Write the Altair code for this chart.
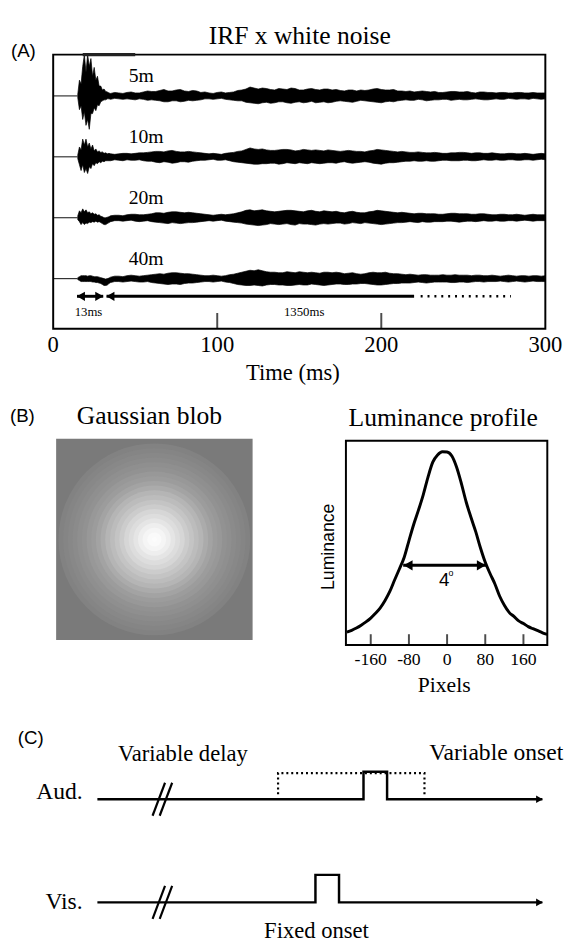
import altair as alt
import pandas as pd

SERIF = "Liberation Serif"
SANS = "Liberation Sans"

# ---------------- Panel A : IRF x white noise ----------------
TIME_BURST = list(range(15, 35))               # ms, 1 ms grid during the onset burst
TIME_GRID = list(range(35, 301, 5))            # ms, 5 ms grid afterwards
TIME_MID = [t + 2.5 for t in TIME_GRID[:-1]]   # ms, samples between the 5 ms grid
TRACE_LABELS = ["5m", "10m", "20m", "40m"]
TRACE_OFFSET = [0, -62, -124, -186]

# burst (1 ms) upper / lower envelope
UP_5_B = [2, 16, 12, 30, 42, 24, 42, 30, 38, 20, 29, 16, 20, 10, 10, 6, 7, 4.5, 4, 3]
LO_5_B = [-2, -14, -10, -24, -16, -30, -24, -34, -18, -18, -12, -15, -9, -10, -6, -5, -4, -4, -3, -3]
UP_10_B = [2, 10, 7, 18, 12, 18, 10, 14, 8, 12, 6, 8, 5, 6, 4.5, 5, 3.5, 4, 3, 3.5]
LO_10_B = [-2, -8, -14, -8, -16, -12, -17, -10, -12, -7, -9, -6, -7, -5, -6, -4.5, -5, -4, -4, -4]
UP_20_B = [2, 7, 5, 9, 6, 8, 5, 6, 4, 5, 3.5, 4, 2.5, 3, 1.5, 1, 0, 0, 0.5, 1]
LO_20_B = [-2, -4, -7, -5, -7, -5.5, -6, -4.5, -5, -4, -4.5, -3.5, -4.5, -4, -5, -6, -7, -7, -6, -5]
UP_40_B = [1, 2, 3, 3, 3, 3, 2.5, 3, 3, 2.5, 2, 2, 2, 1.5, 1, 0.5, 0, -0.5, 0, 0.5]
LO_40_B = [-1, -2, -3, -3, -3, -3, -3, -3, -3, -3.5, -3.5, -4, -4, -4.5, -5, -6, -7, -7, -6.5, -5]

# tail on the 5 ms grid
UP_5_G = [2.5, 3, 3.5, 3, 4, 4.5, 5.5, 5, 6, 5, 5.5, 3.5, 3, 3.5, 3, 4, 6, 9, 7, 7.5,
          6, 7, 8, 6, 7, 6.5, 7, 6, 5.5, 6, 5, 5.5, 7, 6.5, 6, 5, 4.5, 4, 5, 4,
          3.5, 4, 4.5, 4, 3.5, 4, 3.5, 3, 3.5, 3, 3.5, 3, 3, 3]
LO_5_G = [-3.5, -3, -3, -4, -3.5, -4, -5, -6, -5, -5.5, -5, -4, -3, -3, -3.5, -4.5, -5, -7, -8, -6.5,
          -7, -6, -7.5, -6, -6.5, -7, -6, -6.5, -5, -6, -5.5, -5, -6, -7, -5.5, -5, -4, -4.5, -4, -4.5,
          -4, -3.5, -4, -4, -3.5, -3.5, -4, -3, -3.5, -3, -3, -3.5, -3, -3]
UP_10_G = [3, 3, 3.5, 3.5, 4, 5, 5.5, 6, 5.5, 5, 5, 4, 3, 3, 3.5, 4.5, 6, 9, 7.5, 7,
           6.5, 7.5, 7, 6.5, 7, 7, 6, 6.5, 5.5, 6.5, 5.5, 5, 6.5, 7, 6, 5, 5, 4.5, 4.5, 4,
           4, 3.5, 4, 4.5, 3.5, 4, 3.5, 3.5, 3, 3.5, 3, 3, 3, 3]
LO_10_G = [-4, -3.5, -3, -3.5, -4, -4.5, -6, -5.5, -6, -5, -4.5, -3.5, -3, -3.5, -3, -5, -6, -7, -7.5, -7,
           -6.5, -7, -6.5, -6, -7, -6.5, -6.5, -6, -5.5, -6, -6, -5, -6.5, -7.5, -6, -5.5, -4.5, -4, -4.5, -4.5,
           -4, -3.5, -4, -3.5, -4, -3.5, -3.5, -3, -3.5, -3, -3.5, -3, -3, -3]
UP_20_G = [2, 2.5, 3, 3.5, 3, 4, 5, 5.5, 6, 5, 5, 4, 3, 3, 3, 4, 6, 8, 7.5, 7,
           6, 7, 7.5, 6.5, 7, 6.5, 7, 6, 5.5, 6, 5.5, 5, 6.5, 7, 6, 5, 5, 4, 4.5, 4,
           3.5, 4, 4.5, 4, 3.5, 4, 3.5, 3, 3.5, 3, 3, 3, 3, 3]
LO_20_G = [-4, -3, -3, -3.5, -3.5, -4, -5, -6, -5.5, -5.5, -5, -4, -3, -3, -3.5, -4.5, -5.5, -7, -8, -7,
           -6.5, -6.5, -7, -6, -6.5, -7.5, -6, -6, -5.5, -6, -5.5, -5, -6, -7, -6, -5, -4.5, -4.5, -4, -4.5,
           -4, -3.5, -4, -4, -3.5, -3.5, -3.5, -3, -3.5, -3, -3, -3, -3, -3]
UP_40_G = [1.5, 2.5, 3, 3, 3, 4, 5, 5.5, 6, 5, 4.5, 3.5, 3, 3, 3, 4.5, 6.5, 8.5, 9, 7,
           6.5, 6, 6.5, 7, 6, 6, 6.5, 6, 6, 5.5, 5, 5, 6.5, 6, 5.5, 5, 4, 4, 4, 3.5,
           3.5, 3.5, 4, 3.5, 3, 3.5, 3, 3, 3, 3, 3, 2.5, 3, 3]
LO_40_G = [-4, -3, -3, -3, -3.5, -4, -5, -6, -5.5, -5, -4.5, -3.5, -3, -3, -3.5, -5, -6.5, -7, -7, -6.5,
           -6, -6.5, -7, -6, -6.5, -6, -7, -6, -5.5, -6, -5.5, -5, -6, -6.5, -5.5, -5, -4.5, -4, -4, -4,
           -3.5, -3.5, -4, -3.5, -3.5, -3, -3, -3, -3, -3, -3, -3, -3, -3]

# tail between grid points (37.5, 42.5, ... ms)
UP_5_M = [3.5, 2.5, 4, 3, 5, 4.5, 6.5, 5, 6.5, 4.5, 5, 4, 2.5, 4, 3.5, 5.5, 7, 8, 8, 6.5,
          7.5, 6.5, 7.5, 6, 7.5, 6, 7, 6.5, 5, 6, 6, 6, 7.5, 6, 6.5, 5, 5, 4.5, 4.5, 4.5,
          3.5, 4.5, 4, 4.5, 3, 4, 3.5, 3.5, 3, 3.5, 3, 3.5, 3]
LO_5_M = [-2.5, -3.5, -3.5, -3, -4.5, -4.5, -6, -5, -6, -4.5, -4.5, -3, -3.5, -2.5, -4, -5, -6.5, -7.5, -7, -7.5,
          -6, -7, -6.5, -7, -5.5, -6.5, -7, -5.5, -5.5, -6.5, -4.5, -5.5, -6.5, -6, -6, -4.5, -4.5, -3.5, -5, -4,
          -3.5, -4.5, -3.5, -4, -3, -4, -3.5, -3.5, -2.5, -3.5, -3, -2.5, -3.5]
UP_10_M = [2.5, 3.5, 3, 4, 4.5, 5.5, 5, 6.5, 5, 5.5, 4.5, 3.5, 3.5, 2.5, 4, 5.5, 7.5, 8, 8, 6.5,
           7, 7.5, 6, 7.5, 6.5, 6.5, 7, 6, 6, 6, 5.5, 6, 7.5, 6.5, 5.5, 5.5, 4.5, 5, 4, 4.5,
           3.5, 4, 4.5, 4, 4, 3.5, 4, 3, 3.5, 3, 3.5, 2.5, 3.5]
LO_10_M = [-3, -4, -3.5, -3, -4.5, -5.5, -5, -6.5, -5, -5.5, -4, -3.5, -2.5, -3.5, -4, -5.5, -6.5, -7.5, -7, -6.5,
           -7.5, -6, -7, -6.5, -6, -7, -6, -6.5, -5, -6.5, -5.5, -5.5, -7, -6.5, -6, -5, -4.5, -4.5, -4, -4.5,
           -3.5, -4, -4, -3.5, -4, -3, -3.5, -3.5, -3, -3.5, -3, -3.5, -2.5]
UP_20_M = [2.5, 2, 3.5, 3, 3.5, 5, 4.5, 6, 5.5, 5.5, 4.5, 3.5, 2.5, 3.5, 3.5, 5, 7.5, 7, 8, 6.5,
           6.5, 7.5, 7, 6, 7.5, 6, 6.5, 6.5, 5, 6.5, 5, 6, 7.5, 6.5, 5.5, 5.5, 4.5, 4.5, 4, 4,
           3.5, 4.5, 4, 4, 3.5, 4, 3, 3.5, 3, 3.5, 2.5, 3.5, 3]
LO_20_M = [-3, -3.5, -2.5, -4, -3, -4.5, -5.5, -5, -6, -5, -4.5, -3.5, -3.5, -2.5, -4, -5, -6.5, -7.5, -7.5, -6,
           -7, -6, -7.5, -6.5, -7, -6.5, -6.5, -5.5, -6.5, -5, -6, -5.5, -6.5, -6.5, -5.5, -5, -4, -5, -4.5, -4,
           -4, -3.5, -4.5, -3.5, -4, -3, -3.5, -3.5, -3, -3.5, -2.5, -3.5, -3]
UP_40_M = [2.5, 2, 3.5, 2.5, 3.5, 4.5, 4.5, 6, 5.5, 5, 4, 3, 3.5, 2.5, 4, 5.5, 7.5, 8, 8, 6.5,
           6, 7, 6, 6.5, 6.5, 5.5, 6.5, 6.5, 5, 6, 4.5, 6, 6, 6.5, 5, 4.5, 4.5, 3.5, 4, 3.5,
           4, 3.5, 3.5, 3.5, 3.5, 3, 3.5, 2.5, 3.5, 2.5, 3, 3, 2.5]
LO_40_M = [-3, -3.5, -2.5, -3.5, -3, -4.5, -5.5, -5.5, -6, -4.5, -4, -3, -3.5, -2.5, -4, -6, -7, -6.5, -7.5, -6,
           -6.5, -7, -6.5, -6.5, -5.5, -6.5, -6.5, -5.5, -6, -5.5, -5, -5.5, -6.5, -6, -5, -4.5, -4.5, -3.5, -4.5, -3.5,
           -3.5, -4, -3.5, -4, -3, -3.5, -3, -2.5, -3.5, -2.5, -3.5, -2.5, -3]

UPPER = [(UP_5_B, UP_5_G, UP_5_M), (UP_10_B, UP_10_G, UP_10_M),
         (UP_20_B, UP_20_G, UP_20_M), (UP_40_B, UP_40_G, UP_40_M)]
LOWER = [(LO_5_B, LO_5_G, LO_5_M), (LO_10_B, LO_10_G, LO_10_M),
         (LO_20_B, LO_20_G, LO_20_M), (LO_40_B, LO_40_G, LO_40_M)]

A_X_DOMAIN = [0, 300]
A_Y_DOMAIN = [-237, 42]
A_TICK_LABELS = [0, 100, 200, 300]
A_INNER_TICKS = [100, 200]
ONSET_MS = 15
CLIP_SPAN_MS = [18, 50]          # clipped part of the 5m burst along the frame top
LABEL_MS = 46
LABEL_RISE = 20
ARROW_Y = -204
ARROW_13 = [14.5, 30.5]
ARROW_1350_SOLID = [32.5, 220]
ARROW_1350_DOTTED = [224, 279]
ARROW_TEXT = [("13ms", 21.5), ("1350ms", 153)]
ARROW_TEXT_Y = -220

# ---------------- Panel B : Gaussian blob / luminance profile ----------------
PROFILE_PX = list(range(-210, 211, 10))
PROFILE_LUM = [0.063, 0.072, 0.083, 0.097, 0.113, 0.132, 0.155, 0.182, 0.218, 0.262,
               0.318, 0.372, 0.428, 0.510, 0.590, 0.660, 0.735, 0.822, 0.895, 0.930,
               0.946, 0.945, 0.925, 0.870, 0.790, 0.700, 0.625, 0.555, 0.475, 0.405,
               0.350, 0.300, 0.240, 0.195, 0.160, 0.140, 0.118, 0.105, 0.090, 0.080,
               0.070, 0.060, 0.052]
LUM_TICKS = [-160, -80, 0, 80, 160]
LUM_X_DOMAIN = [-212, 210]
FWHM_ARROW = [-92, 82]
FWHM_LEVEL = 0.39
BLOB_BG_LUM = 0.04

# ---------------- Panel C : timing ----------------
C_X_DOMAIN = [0, 100]
C_Y_DOMAIN = [0, 4.75]
AUD_BASE = 3.75
VIS_BASE = 0.0
PULSE_H = 1.0
AUD_PULSE = [59.8, 65.1]
VIS_PULSE = [49.0, 54.3]
AUD_WINDOW = [40.6, 73.5]
BREAK_AT = [12.4, 14.0]
BREAK_W = 2.8
LINE_END = 100

for grp in UPPER + LOWER:
    assert len(grp[0]) == len(TIME_BURST) and len(grp[1]) == len(TIME_GRID) and len(grp[2]) == len(TIME_MID)
assert len(PROFILE_PX) == len(PROFILE_LUM)

# ---------------- scales (explicit pixel ranges inside one view) ----------------
def sc(domain, rng):
    return alt.Scale(domain=domain, range=rng, nice=False, zero=False)

A_X = sc(A_X_DOMAIN, [46, 547])
A_Y = sc(A_Y_DOMAIN, [318, 39])
L_X = sc(LUM_X_DOMAIN, [344, 549])
L_Y = sc([0, 1], [640, 432])
BL_X = sc([-210, 210], [49, 249])
BL_Y = sc([-215, 215], [635, 430])
C_X = sc(C_X_DOMAIN, [91, 544])
C_Y = sc(C_Y_DOMAIN, [902, 769])
GRAY = alt.Scale(type="pow", exponent=0.45, domain=[0.04, 0.946],
                 range=["#7a7a7a", "#fcfcfc"], clamp=True)


def X(field, scale):
    return alt.X(field, type="quantitative", scale=scale, axis=None)


def Y(field, scale):
    return alt.Y(field, type="quantitative", scale=scale, axis=None)


def label(text, x, y, size, font=SERIF, align="center", baseline="alphabetic", angle=None):
    kw = dict(font=font, fontSize=size, align=align, baseline=baseline, color="black")
    if angle is not None:
        kw["angle"] = angle
    return alt.Chart(pd.DataFrame({"label": [text]})).mark_text(**kw).encode(
        text="label:N", x=alt.value(x), y=alt.value(y))


layers = []

# ---- Panel A
rows = []
for lab, off, (ub, ug, um), (lb, lg, lm) in zip(TRACE_LABELS, TRACE_OFFSET, UPPER, LOWER):
    samples = list(zip(TIME_BURST, ub, lb)) + list(zip(TIME_GRID, ug, lg)) + list(zip(TIME_MID, um, lm))
    for t, u, l in samples:
        rows.append({"trace": lab, "t": t, "hi": off + u, "lo": off + l})
df_noise = pd.DataFrame(rows).sort_values(["trace", "t"]).reset_index(drop=True)

layers.append(alt.Chart(df_noise).mark_area(
    color="black", stroke="black", strokeWidth=0.7, interpolate="linear").encode(
    x=X("t", A_X), y=Y("hi", A_Y), y2="lo", detail="trace:N"))

df_pre = pd.DataFrame({"off": TRACE_OFFSET, "x0": [0] * 4, "x1": [ONSET_MS] * 4})
layers.append(alt.Chart(df_pre).mark_rule(color="#333333", strokeWidth=1.2).encode(
    x=X("x0", A_X), x2="x1", y=Y("off", A_Y)))

df_lab = pd.DataFrame({"label": TRACE_LABELS, "t": [LABEL_MS] * 4,
                       "y": [o + LABEL_RISE for o in TRACE_OFFSET]})
layers.append(alt.Chart(df_lab).mark_text(font=SERIF, fontSize=20, align="left",
                                          baseline="middle", color="black").encode(
    x=X("t", A_X), y=Y("y", A_Y), text="label:N"))

df_frameA = pd.DataFrame({"x0": [A_X_DOMAIN[0]], "x1": [A_X_DOMAIN[1]],
                          "y0": [A_Y_DOMAIN[0]], "y1": [A_Y_DOMAIN[1]]})
layers.append(alt.Chart(df_frameA).mark_rect(fillOpacity=0, stroke="black", strokeWidth=2).encode(
    x=X("x0", A_X), x2="x1", y=Y("y0", A_Y), y2="y1"))

layers.append(alt.Chart(pd.DataFrame({"x0": [CLIP_SPAN_MS[0]], "x1": [CLIP_SPAN_MS[1]],
                                      "y": [A_Y_DOMAIN[1]]})).mark_rule(
    color="#222222", strokeWidth=3.5).encode(x=X("x0", A_X), x2="x1", y=Y("y", A_Y)))

layers.append(alt.Chart(pd.DataFrame({"t": A_INNER_TICKS, "y": [A_Y_DOMAIN[0]] * 2})).mark_tick(
    orient="vertical", size=16, thickness=2, yOffset=-8, color="black").encode(
    x=X("t", A_X), y=Y("y", A_Y)))

layers.append(alt.Chart(pd.DataFrame({"t": A_TICK_LABELS, "label": [str(v) for v in A_TICK_LABELS]})).mark_text(
    font=SERIF, fontSize=23, align="center", baseline="alphabetic", color="black").encode(
    x=X("t", A_X), y=alt.value(342), text="label:N"))

df_arr = pd.DataFrame({"x0": [ARROW_13[0], ARROW_1350_SOLID[0]],
                       "x1": [ARROW_13[1], ARROW_1350_SOLID[1]],
                       "y": [ARROW_Y, ARROW_Y]})
layers.append(alt.Chart(df_arr).mark_rule(color="black", strokeWidth=3).encode(
    x=X("x0", A_X), x2="x1", y=Y("y", A_Y)))
layers.append(alt.Chart(pd.DataFrame({"x0": [ARROW_1350_DOTTED[0]], "x1": [ARROW_1350_DOTTED[1]],
                                      "y": [ARROW_Y]})).mark_rule(
    color="black", strokeWidth=2.5, strokeDash=[2, 5]).encode(
    x=X("x0", A_X), x2="x1", y=Y("y", A_Y)))
layers.append(alt.Chart(pd.DataFrame({"t": [ARROW_13[0], ARROW_1350_SOLID[0]], "y": [ARROW_Y] * 2})).mark_point(
    shape="triangle-left", size=90, filled=True, opacity=1, color="black", xOffset=4).encode(
    x=X("t", A_X), y=Y("y", A_Y)))
layers.append(alt.Chart(pd.DataFrame({"t": [ARROW_13[1]], "y": [ARROW_Y]})).mark_point(
    shape="triangle-right", size=90, filled=True, opacity=1, color="black", xOffset=-4).encode(
    x=X("t", A_X), y=Y("y", A_Y)))
layers.append(alt.Chart(pd.DataFrame({"label": [a for a, _ in ARROW_TEXT], "t": [b for _, b in ARROW_TEXT],
                                      "y": [ARROW_TEXT_Y] * 2})).mark_text(
    font=SERIF, fontSize=13, align="center", baseline="middle", color="black").encode(
    x=X("t", A_X), y=Y("y", A_Y), text="label:N"))

layers += [
    label("IRF x white noise", 297, 28, 26),
    label("(A)", 3, 35, 19, font=SANS, align="left", baseline="middle"),
    label("Time (ms)", 290, 370, 23),
]

# ---- Panel B : blob
layers.append(alt.Chart(pd.DataFrame({"x0": [-210], "x1": [210], "y0": [-215], "y1": [215],
                                      "lum": [BLOB_BG_LUM]})).mark_rect(strokeWidth=0).encode(
    x=X("x0", BL_X), x2="x1", y=Y("y0", BL_Y), y2="y1",
    color=alt.Color("lum:Q", scale=GRAY, legend=None)))

ring = pd.DataFrame({"r": [p for p in PROFILE_PX if 0 <= p <= 200],
                     "lum": [v for p, v in zip(PROFILE_PX, PROFILE_LUM) if 0 <= p <= 200]})
ring["diam2"] = (2 * (ring["r"] + 5)) ** 2
ring["cx"] = 0
ring["cy"] = 0
ring = ring.sort_values("r", ascending=False).reset_index(drop=True)
ring["order"] = range(len(ring))
layers.append(alt.Chart(ring).mark_circle(opacity=1, strokeWidth=0).encode(
    x=X("cx", BL_X), y=Y("cy", BL_Y),
    size=alt.Size("diam2:Q", scale=alt.Scale(type="linear", domain=[0, 420 ** 2], range=[0, 200 ** 2]),
                  legend=None),
    color=alt.Color("lum:Q", scale=GRAY, legend=None),
    order=alt.Order("order:Q")))

layers += [
    label("(B)", 2, 407, 19, font=SANS, align="left", baseline="middle"),
    label("Gaussian blob", 144, 415, 26),
    label("Luminance profile", 443, 417, 26),
]

# ---- Panel B : luminance profile
df_prof = pd.DataFrame({"px": PROFILE_PX, "lum": PROFILE_LUM})
layers.append(alt.Chart(df_prof).mark_line(color="black", strokeWidth=3, interpolate="monotone").encode(
    x=X("px", L_X), y=Y("lum", L_Y)))
layers.append(alt.Chart(pd.DataFrame({"x0": [LUM_X_DOMAIN[0]], "x1": [LUM_X_DOMAIN[1]],
                                      "y0": [0], "y1": [1]})).mark_rect(
    fillOpacity=0, stroke="black", strokeWidth=2).encode(
    x=X("x0", L_X), x2="x1", y=Y("y0", L_Y), y2="y1"))
layers.append(alt.Chart(pd.DataFrame({"px": LUM_TICKS, "y": [0] * len(LUM_TICKS)})).mark_tick(
    orient="vertical", size=11, thickness=2, yOffset=-5.5, color="black").encode(
    x=X("px", L_X), y=Y("y", L_Y)))
layers.append(alt.Chart(pd.DataFrame({"px": LUM_TICKS, "label": [str(v) for v in LUM_TICKS]})).mark_text(
    font=SERIF, fontSize=18, align="center", baseline="alphabetic", color="black").encode(
    x=X("px", L_X), y=alt.value(660), text="label:N"))
layers.append(alt.Chart(pd.DataFrame({"x0": [FWHM_ARROW[0]], "x1": [FWHM_ARROW[1]], "y": [FWHM_LEVEL]})).mark_rule(
    color="black", strokeWidth=3).encode(x=X("x0", L_X), x2="x1", y=Y("y", L_Y)))
layers.append(alt.Chart(pd.DataFrame({"px": [FWHM_ARROW[0]], "y": [FWHM_LEVEL]})).mark_point(
    shape="triangle-left", size=110, filled=True, opacity=1, color="black", xOffset=5).encode(
    x=X("px", L_X), y=Y("y", L_Y)))
layers.append(alt.Chart(pd.DataFrame({"px": [FWHM_ARROW[1]], "y": [FWHM_LEVEL]})).mark_point(
    shape="triangle-right", size=110, filled=True, opacity=1, color="black", xOffset=-5).encode(
    x=X("px", L_X), y=Y("y", L_Y)))
layers += [
    label("4", 444, 574, 19, font=SANS, align="center", baseline="middle"),
    label("o", 451, 567, 9, font=SANS, align="center", baseline="middle"),
    label("Pixels", 444, 688, 22),
    label("Luminance", 327, 540, 18, font=SANS, baseline="middle", angle=270),
]

# ---- Panel C : timing diagram
def pulse_path(name, base, on, off):
    xs = [C_X_DOMAIN[0], on, on, off, off, LINE_END]
    ys = [base, base, base + PULSE_H, base + PULSE_H, base, base]
    return [{"path": name, "i": i, "t": x, "lev": y} for i, (x, y) in enumerate(zip(xs, ys))]

df_paths = pd.DataFrame(pulse_path("aud", AUD_BASE, *AUD_PULSE) + pulse_path("vis", VIS_BASE, *VIS_PULSE))
layers.append(alt.Chart(df_paths).mark_line(color="black", strokeWidth=2.5, strokeJoin="miter").encode(
    x=X("t", C_X), y=Y("lev", C_Y), detail="path:N", order="i:Q"))

win = [{"i": 0, "t": AUD_WINDOW[0], "lev": AUD_BASE + 0.18},
       {"i": 1, "t": AUD_WINDOW[0], "lev": AUD_BASE + 0.95},
       {"i": 2, "t": AUD_WINDOW[1], "lev": AUD_BASE + 0.95},
       {"i": 3, "t": AUD_WINDOW[1], "lev": AUD_BASE + 0.18}]
layers.append(alt.Chart(pd.DataFrame(win)).mark_line(
    color="black", strokeWidth=2.2, strokeDash=[2, 3]).encode(
    x=X("t", C_X), y=Y("lev", C_Y), order="i:Q"))

brk = []
for base in [AUD_BASE, VIS_BASE]:
    for b in BREAK_AT:
        brk.append({"x0": b, "x1": b + BREAK_W, "y0": base - 0.6, "y1": base + 0.6})
layers.append(alt.Chart(pd.DataFrame(brk)).mark_rule(color="black", strokeWidth=2.2).encode(
    x=X("x0", C_X), x2="x1", y=Y("y0", C_Y), y2="y1"))

layers.append(alt.Chart(pd.DataFrame({"t": [LINE_END, LINE_END], "lev": [AUD_BASE, VIS_BASE]})).mark_point(
    shape="triangle-right", size=60, filled=True, opacity=1, color="black", xOffset=-3).encode(
    x=X("t", C_X), y=Y("lev", C_Y)))

layers += [
    label("(C)", 10, 735, 19, font=SANS, align="left", baseline="middle"),
    label("Variable delay", 178, 758, 23),
    label("Variable onset", 497, 757, 24),
    label("Aud.", 76, 797, 24, align="right"),
    label("Vis.", 76, 909, 24, align="right"),
    label("Fixed onset", 314, 938, 23),
]

chart = alt.layer(*layers).resolve_scale(
    x="independent", y="independent", color="independent", size="independent"
).properties(width=556, height=932, padding=0).configure_view(stroke=None)

chart.save("out.html", embed_options={"renderer": "svg", "actions": False})
